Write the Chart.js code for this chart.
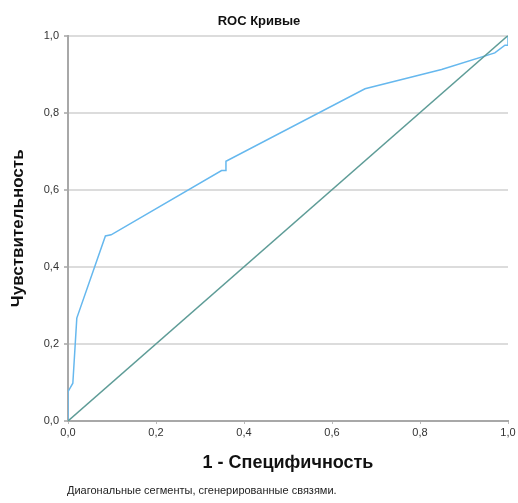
<!DOCTYPE html>
<html lang="ru">
<head>
<meta charset="utf-8">
<title>ROC Кривые</title>
<script src="https://cdn.jsdelivr.net/npm/chart.js@4/dist/chart.umd.min.js"></script>
<style>
  html, body { margin: 0; padding: 0; background: #fff; }
  #wrap { position: relative; width: 518px; height: 503px; }
  #note {
    position: absolute; left: 67px; top: 484px;
    font: 11px "Liberation Sans", Arial, sans-serif; color: #222;
    white-space: nowrap;
  }
</style>
</head>
<body>
<div id="wrap">
  <canvas id="chart" width="518" height="503"></canvas>
  <div id="note">Диагональные сегменты, сгенерированные связями.</div>
</div>
<script>
// ROC curve points (1 - specificity, sensitivity)
const rocFpr = [0, 0, 0.011, 0.02, 0.085, 0.098, 0.349, 0.359, 0.359, 0.675, 0.849, 0.97, 0.993, 1, 1];
const rocTpr = [0, 0.076, 0.098, 0.267, 0.48, 0.483, 0.65, 0.65, 0.674, 0.862, 0.912, 0.955, 0.975, 0.975, 1];

// reference line
const diagX = [0, 1];
const diagY = [0, 1];

const tickLabels = ['0,0', '0,2', '0,4', '0,6', '0,8', '1,0'];

const FONT = '"Liberation Sans", Arial, sans-serif';

const toPoints = (xs, ys) => xs.map((x, i) => ({ x: x, y: ys[i] }));
const tickLabel = (v, i) => tickLabels[i];

const ctx = document.getElementById('chart');
new Chart(ctx, {
    type: 'scatter',
    data: {
        datasets: [{
            label: 'Опорная линия',
            data: toPoints(diagX, diagY),
            showLine: true,
            borderColor: '#5e9c97',
            borderWidth: 1.5,
            pointRadius: 0
        }, {
            label: 'ROC',
            data: toPoints(rocFpr, rocTpr),
            showLine: true,
            borderColor: '#66b8ee',
            borderWidth: 1.5,
            pointRadius: 0
        }]
    },
    options: {
        responsive: false,
        animation: false,
        layout: { padding: 0 },
        plugins: {
            legend: { display: false },
            tooltip: { enabled: false },
            title: {
                display: true,
                text: 'ROC Кривые',
                color: '#111',
                font: { family: FONT, size: 13, weight: 'bold' },
                padding: { top: 14, bottom: 6 }
            }
        },
        scales: {
            x: {
                type: 'linear',
                min: 0,
                max: 1,
                afterFit: (scale) => {
                    scale.height = 82;
                    scale.paddingLeft = 0;
                    scale.paddingRight = 10; // room on the right of the plot
                },
                border: { color: '#a8a8a8', width: 2 },
                grid: { drawOnChartArea: false, tickLength: 3, color: '#bbb' },
                ticks: {
                    stepSize: 0.2,
                    color: '#333',
                    padding: 2,
                    maxRotation: 0,
                    font: { family: FONT, size: 11 },
                    callback: tickLabel
                },
                title: {
                    display: true,
                    text: '1 - Специфичность',
                    color: '#111',
                    font: { family: FONT, size: 18, weight: 'bold' },
                    padding: { top: 0, bottom: 29 }
                }
            },
            y: {
                type: 'linear',
                min: 0,
                max: 1,
                afterFit: (scale) => {
                    scale.width = 68;
                },
                border: { color: '#a8a8a8', width: 2 },
                grid: { color: '#dcdcdc', lineWidth: 2, tickLength: 4, tickColor: '#bbb' },
                ticks: {
                    stepSize: 0.2,
                    color: '#333',
                    padding: 5,
                    font: { family: FONT, size: 11 },
                    callback: tickLabel
                },
                title: {
                    display: true,
                    text: 'Чувствительность',
                    color: '#111',
                    font: { family: FONT, size: 17, weight: 'bold' },
                    padding: { top: 8, bottom: 0 }
                }
            }
        }
    }
});
</script>
</body>
</html>
